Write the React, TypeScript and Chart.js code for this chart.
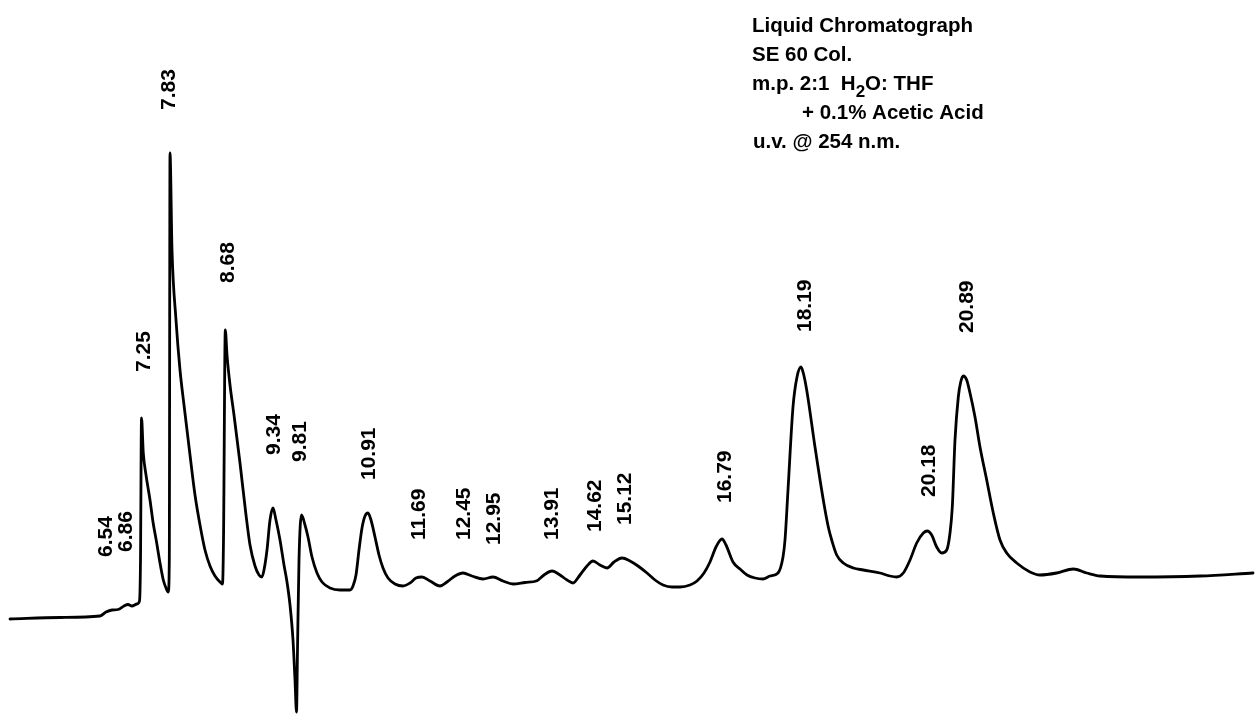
import { useEffect, useRef } from "react";
import { Chart, registerables } from "chart.js";

Chart.register(...registerables);

// Retention time (seconds) and detector response (arbitrary units)
const timeSec = [
  300, 350, 390, 396, 402, 408, 414, 418, 422, 427, 429.5, 430.5, 431.5,
  433.3, 436, 440, 443, 446.7, 450, 453.3, 456, 458.3, 459.3, 460,
  462, 466, 470, 474, 480, 485, 490, 495, 500, 505, 510, 512.5, 513.5, 515.3,
  517, 520, 524, 530, 536, 540, 545, 549, 552, 554, 557, 560, 563,
  566, 570, 574, 577, 580, 583, 585, 586.5, 587.5, 589, 591.5,
  595, 598, 602, 607, 612, 620, 630, 640, 643, 646, 649, 652, 655, 658,
  661, 665, 669, 673, 678, 685, 693, 700, 706, 712,
  720, 730, 737, 745, 753, 762, 773, 783, 793, 803, 815, 827, 834, 842,
  850, 857, 863, 870, 877, 883, 890, 897, 904, 912,
  920, 928, 937, 945, 953, 962, 970, 980, 987, 994, 1000, 1006, 1012,
  1016, 1023, 1030, 1037, 1045, 1053, 1060, 1068, 1073, 1075, 1078, 1083, 1087, 1091,
  1093.3, 1096.7, 1105, 1113.3, 1118.3, 1121.7, 1126.7, 1133.3, 1143.3, 1153.3,
  1170, 1180, 1186.7, 1193.3, 1200, 1206.7, 1213.3, 1217.3,
  1221.7, 1226.7, 1231.7, 1236.7, 1240, 1242.3, 1245, 1248.3, 1250.7, 1253.3,
  1256.7, 1260, 1265, 1270, 1276.7, 1283.3, 1290, 1296.7, 1306.7, 1320, 1330,
  1346.7, 1363.3, 1376.7, 1390, 1430, 1490, 1543,
];

const signal = [
  0.1, 0.25, 0.4, 0.8, 1.0, 1.05, 1.4, 1.55, 1.4, 1.6, 1.9, 6.0, 20.2,
  16.7, 14.5, 12.0, 9.8, 7.7, 5.7, 4.0, 3.2, 2.8, 6.0, 46.7,
  37.0, 30.0, 25.0, 21.5, 16.5, 12.5, 9.5, 7.0, 5.4, 4.4, 3.8, 3.6, 8.0, 29.0,
  26.5, 23.5, 20.5, 15.7, 10.5, 7.5, 5.4, 4.5, 4.3, 5.0, 7.0, 10.0, 11.2,
  10.0, 8.0, 5.5, 3.8, 1.5, -2.0, -6.0, -9.2, -3.0, 6.0, 10.5,
  9.5, 8.3, 6.3, 4.7, 3.8, 3.2, 3.0, 3.0, 3.4, 4.5, 7.0, 9.2, 10.4, 10.7,
  10.0, 8.3, 6.5, 5.2, 4.2, 3.6, 3.4, 3.7, 4.2, 4.3,
  3.9, 3.4, 3.8, 4.4, 4.7, 4.4, 4.1, 4.3, 3.9, 3.6, 3.75, 3.93, 4.5, 4.9,
  4.5, 4.0, 3.7, 4.5, 5.4, 5.9, 5.5, 5.2, 5.8, 6.2,
  5.9, 5.4, 4.7, 4.0, 3.5, 3.3, 3.3, 3.5, 3.9, 4.7, 5.8, 7.3, 8.1,
  7.5, 5.8, 5.1, 4.5, 4.2, 4.1, 4.4, 4.7, 6.3, 8.0, 13.0, 21.3, 24.3, 25.3,
  24.7, 23.0, 17.3, 12.0, 9.3, 8.0, 6.5, 5.7, 5.2, 5.0,
  4.7, 4.4, 4.3, 4.7, 6.0, 7.7, 8.7, 8.9,
  8.5, 7.3, 6.7, 7.0, 8.7, 11.3, 18.0, 22.3, 23.8, 24.4,
  24.0, 22.7, 20.3, 17.3, 14.0, 10.7, 8.0, 6.7, 5.7, 4.8, 4.5,
  4.7, 5.1, 4.7, 4.4, 4.3, 4.4, 4.7,
];

// Peak annotations: printed retention time, where the label sits (time, level)
const peakLabels = [
  "6.54", "6.86", "7.25", "7.83", "8.68", "9.34", "9.81", "10.91", "11.69",
  "12.45", "12.95", "13.91", "14.62", "15.12", "16.79", "18.19", "20.18", "20.89",
];
const labelTimeSec = [
  394, 414, 432, 457, 516, 562, 588, 657, 707, 752, 782, 840, 883, 913, 1013, 1093, 1217, 1255,
];
const labelLevel = [
  6.3, 6.8, 24.8, 51.0, 33.7, 16.5, 15.8, 14.0, 8.0, 8.0, 7.5, 8.0, 8.8, 9.5, 11.7, 28.8, 12.3, 28.7,
];

// Method notes (segments: [text, isSubscript])
const noteLines: [string, boolean][][] = [
  [["Liquid Chromatograph", false]],
  [["SE 60 Col.", false]],
  [["m.p. 2:1", false], ["  H", false], ["2", true], ["O: THF", false]],
  [["+ 0.1% Acetic Acid", false]],
  [["u.v. @ 254 n.m.", false]],
];

const FONT_FAMILY = '"Liberation Sans", Arial, Helvetica, sans-serif';

const annotationPlugin = {
  id: "chromAnnotations",
  afterDatasetsDraw(chart: any) {
    const { ctx, scales } = chart;
    const xs = scales.x;
    const ys = scales.y;
    ctx.save();
    ctx.fillStyle = "#000";
    // rotated peak labels
    ctx.font = `bold 21px ${FONT_FAMILY}`;
    ctx.textAlign = "left";
    ctx.textBaseline = "alphabetic";
    peakLabels.forEach((txt, i) => {
      const px = xs.getPixelForValue(labelTimeSec[i]);
      const py = ys.getPixelForValue(labelLevel[i]);
      ctx.save();
      ctx.translate(px, py);
      ctx.rotate(-Math.PI / 2);
      ctx.fillText(txt, 0, 7.5);
      ctx.restore();
    });

    // method notes block
    const left = 752;
    const baselines = [32, 60.5, 90, 118.5, 148];
    const indents = [0, 0, 0, 50, 1];
    noteLines.forEach((segs, li) => {
      let cx = left + indents[li];
      segs.forEach(([t, sub]) => {
        if (sub) {
          ctx.font = `bold 17px ${FONT_FAMILY}`;
          ctx.fillText(t, cx, baselines[li] + 7);
        } else {
          ctx.font = `bold 20.5px ${FONT_FAMILY}`;
          ctx.fillText(t, cx, baselines[li]);
        }
        cx += ctx.measureText(t).width;
      });
    });
    ctx.restore();
  },
};

export default function App() {
  const ref = useRef<HTMLCanvasElement | null>(null);

  useEffect(() => {
    if (!ref.current) return;
    const points = timeSec.map((t, i) => ({ x: t, y: signal[i] }));
    const chart = new Chart(ref.current, {
      type: "line",
      data: {
        datasets: [
          {
            data: points,
            borderColor: "#000",
            borderWidth: 2.8,
            pointRadius: 0,
            cubicInterpolationMode: "monotone",
            fill: false,
            borderJoinStyle: "round",
            borderCapStyle: "round",
          },
        ],
      },
      options: {
        animation: false,
        responsive: false,
        layout: { padding: 0 },
        events: [],
        plugins: { legend: { display: false }, tooltip: { enabled: false }, title: { display: false } },
        scales: {
          x: { type: "linear", min: 290, max: 1545, display: false },
          y: { type: "linear", min: -9.5, max: 62, display: false },
        },
      },
      plugins: [annotationPlugin],
    });
    return () => chart.destroy();
  }, []);

  return (
    <div style={{ position: "fixed", left: 0, top: 0, width: 1255, height: 715, background: "#fff" }}>
      <canvas ref={ref} width={1255} height={715} style={{ display: "block", width: 1255, height: 715 }} />
    </div>
  );
}
